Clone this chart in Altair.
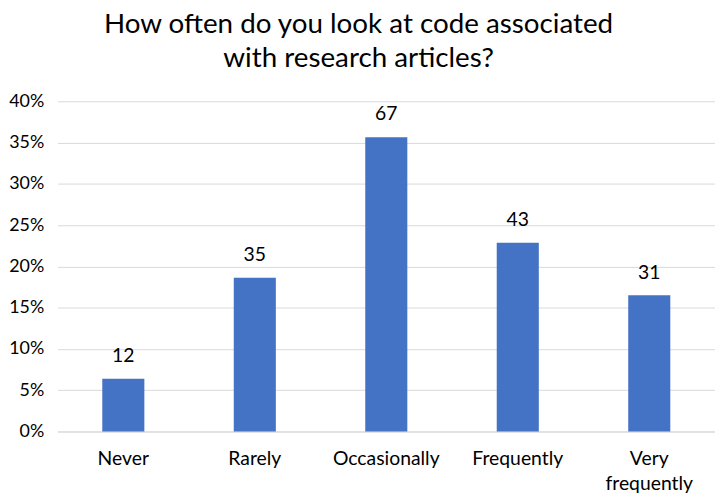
import altair as alt
import pandas as pd

categories = ["Never", "Rarely", "Occasionally", "Frequently", "Very frequently"]
counts = [12, 35, 67, 43, 31]

total = sum(counts)
df = pd.DataFrame({
    "category": categories,
    "count": counts,
    "share": [c / total for c in counts],
})

FONT = "Lato"

base = alt.Chart(df).encode(
    x=alt.X(
        "category:N",
        sort=categories,
        title=None,
        scale=alt.Scale(paddingInner=0.68, paddingOuter=0.34),
        axis=alt.Axis(
            labelAngle=0,
            labelFontSize=19.5,
            labelFont=FONT,
            labelColor="#000000",
            labelPadding=18,
            labelLineHeight=26,
            labelExpr="datum.value == 'Very frequently' ? ['Very', 'frequently'] : datum.value",
            ticks=False,
            domain=True,
            domainColor="#d9d9d9",
            domainWidth=1,
            grid=False,
        ),
    ),
    y=alt.Y(
        "share:Q",
        title=None,
        scale=alt.Scale(domain=[0, 0.4], nice=False),
        axis=alt.Axis(
            format=".0%",
            values=[0, 0.05, 0.1, 0.15, 0.2, 0.25, 0.3, 0.35, 0.4],
            labelFontSize=18,
            labelFont=FONT,
            labelColor="#000000",
            labelPadding=14,
            ticks=False,
            domain=False,
            grid=True,
            gridColor="#d9d9d9",
            gridWidth=1,
        ),
    ),
)

bars = base.mark_bar(color="#4472C4")
labels = base.mark_text(
    baseline="bottom", dy=-13, fontSize=19.5, font=FONT, color="#000000"
).encode(text="count:Q")

chart = (
    (bars + labels)
    .properties(
        width=663,
        height=333,
        autosize=alt.AutoSizeParams(type="none"),
        padding={"left": 50, "top": 92, "right": 0, "bottom": 65},
        title=alt.TitleParams(
            text=["How often do you look at code associated", "with research articles?"],
            fontSize=28,
            font=FONT,
            fontWeight="normal",
            color="#000000",
            anchor="middle",
            lineHeight=34,
            offset=20,
            dx=-28,
        ),
    )
    .configure_view(stroke=None)
)

chart.save("out.html", embed_options={"renderer": "svg", "actions": False})
